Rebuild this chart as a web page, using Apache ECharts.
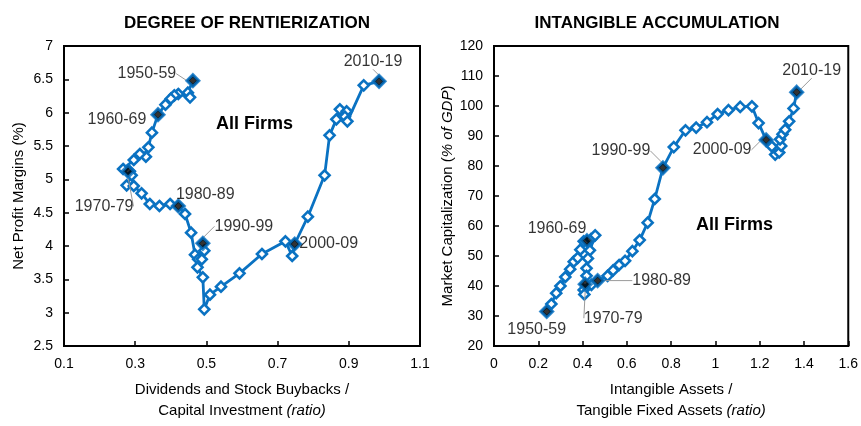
<!DOCTYPE html>
<html>
<head>
<meta charset="utf-8">
<script src="https://cdn.jsdelivr.net/npm/echarts/dist/echarts.min.js"></script>
<style>
  html, body { margin: 0; padding: 0; background: #fff; }
  #chart { width: 861px; height: 426px; }
</style>
</head>
<body>
<div id="chart"></div>
<script>
// left panel: payout ratio vs net profit margin, 1950 -> 2019
const rentX = [0.462, 0.448, 0.454, 0.421, 0.410, 0.400, 0.385, 0.364, 0.347, 0.337, 0.330, 0.313, 0.296, 0.266, 0.285, 0.290, 0.276, 0.296, 0.318, 0.341, 0.368, 0.398, 0.421, 0.440, 0.457, 0.468, 0.477, 0.490, 0.494, 0.487, 0.475, 0.490, 0.494, 0.510, 0.541, 0.593, 0.656, 0.722, 0.741, 0.748, 0.785, 0.832, 0.846, 0.865, 0.875, 0.894, 0.889, 0.896, 0.942, 0.985];
const rentY = [6.48, 6.30, 6.23, 6.28, 6.26, 6.21, 6.12, 5.97, 5.70, 5.48, 5.34, 5.38, 5.29, 5.155, 5.12, 5.06, 4.91, 4.90, 4.79, 4.63, 4.60, 4.63, 4.60, 4.48, 4.20, 3.87, 3.80, 4.04, 3.93, 3.80, 3.68, 3.53, 3.05, 3.27, 3.39, 3.59, 3.88, 4.07, 3.85, 4.03, 4.44, 5.06, 5.66, 5.90, 6.05, 6.02, 5.94, 5.87, 6.41, 6.47];

// right panel: intangible/tangible ratio vs market cap (% of GDP)
const intX = [0.238, 0.259, 0.281, 0.300, 0.322, 0.344, 0.360, 0.378, 0.390, 0.405, 0.420, 0.438, 0.457, 0.433, 0.424, 0.418, 0.418, 0.412, 0.405, 0.408, 0.440, 0.468, 0.513, 0.538, 0.565, 0.592, 0.625, 0.658, 0.694, 0.726, 0.763, 0.812, 0.865, 0.913, 0.962, 1.010, 1.059, 1.112, 1.165, 1.195, 1.229, 1.255, 1.270, 1.288, 1.297, 1.292, 1.303, 1.315, 1.333, 1.353, 1.367];
const intY = [31.5, 34.0, 37.6, 40.0, 43.0, 45.6, 48.1, 49.4, 52.1, 54.9, 55.1, 55.6, 56.9, 51.9, 49.2, 45.9, 43.4, 40.6, 38.7, 37.2, 40.4, 41.8, 43.4, 45.2, 47.0, 48.4, 51.6, 55.3, 61.1, 69.0, 79.4, 86.3, 91.9, 92.8, 94.6, 97.3, 98.6, 99.7, 99.9, 94.3, 88.7, 86.5, 83.8, 84.5, 86.7, 88.9, 90.6, 92.1, 94.9, 99.2, 104.6];

// decade markers
const decades = ['1950-59', '1960-69', '1970-79', '1980-89', '1990-99', '2000-09', '2010-19'];
const rentDecX = [0.462, 0.364, 0.280, 0.421, 0.490, 0.748, 0.985];
const rentDecY = [6.48, 5.97, 5.12, 4.60, 4.04, 4.03, 6.47];
const intDecX = [0.238, 0.420, 0.412, 0.468, 0.763, 1.229, 1.367];
const intDecY = [31.5, 55.1, 40.6, 41.8, 79.4, 88.7, 104.6];

const BLUE = '#0a72c2';
const FONT = 'Liberation Sans, Arial, sans-serif';

// label offsets [dx, dy, leader line]
const rentLbl = [[-46, -7, true], [-41, 5, false], [-24, 35, true], [27, -11, false], [41, -17, true], [34, 0, false], [-6, -20, true]];
const intLbl = [[-10, 18, false], [-30, -12, false], [28, 34, true], [64, 0, true], [-42, -17, true], [-44, 10, true], [15, -22, true]];

const zip = (xs, ys) => xs.map((x, i) => [x, ys[i]]);

const chart = echarts.init(document.getElementById('chart'), null, { renderer: 'canvas' });

const axisCommon = {
  type: 'value',
  axisLine: { show: true, lineStyle: { color: '#000', width: 2 } },
  axisTick: { show: true, inside: true, length: 5, lineStyle: { color: '#000', width: 1.5 } },
  splitLine: { show: false },
  axisLabel: { color: '#000', fontSize: 14, fontFamily: FONT, margin: 11 }
};

const lineSeries = (xi, data) => ({
  type: 'line',
  xAxisIndex: xi, yAxisIndex: xi,
  data: data,
  symbol: 'diamond',
  symbolSize: 10,
  showSymbol: true,
  lineStyle: { color: BLUE, width: 2.8 },
  itemStyle: { color: '#fff', borderColor: BLUE, borderWidth: 2.6 },
  z: 3
});

const decadeSeries = (xi, xs, ys, offs) => ({
  type: 'scatter',
  xAxisIndex: xi, yAxisIndex: xi,
  symbol: 'diamond',
  symbolSize: 12,
  itemStyle: { color: '#000', borderColor: BLUE, borderWidth: 3 },
  z: 5,
  data: decades.map((d, i) => ({
    name: d,
    value: [xs[i], ys[i]],
    labelLine: { show: offs[i][2] }
  })),
  label: {
    show: true,
    position: 'inside',
    formatter: '{t|{b}}',
    rich: { t: { color: '#000', fontSize: 16, fontFamily: FONT } },
    textBorderWidth: 0
  },
  labelLine: { show: true, lineStyle: { color: '#9a9a9a', width: 1 } },
  labelLayout: p => ({ dx: offs[p.dataIndex][0], dy: offs[p.dataIndex][1] })
});

const option = {
  animation: false,
  backgroundColor: '#fff',
  title: [
    { text: 'DEGREE OF RENTIERIZATION', left: 242, top: 10, textAlign: 'center',
      textStyle: { fontSize: 17, fontWeight: 'bold', color: '#000', fontFamily: FONT } },
    { text: 'INTANGIBLE ACCUMULATION', left: 652, top: 10, textAlign: 'center',
      textStyle: { fontSize: 17, fontWeight: 'bold', color: '#000', fontFamily: FONT } }
  ],
  grid: [
    { left: 64, top: 46, width: 356, height: 308, show: true, borderColor: '#000', borderWidth: 2 },
    { left: 494, top: 46, width: 356, height: 308, show: true, borderColor: '#000', borderWidth: 2 }
  ],
  xAxis: [
    Object.assign({}, axisCommon, {
      gridIndex: 0, min: 0.1, max: 1.1, interval: 0.2,
      name: 'Dividends and Stock Buybacks /\nCapital Investment {i|(ratio)}',
      nameLocation: 'middle', nameGap: 33,
      nameTextStyle: { color: '#000', fontSize: 15, fontFamily: FONT, lineHeight: 21,
        rich: { i: { fontStyle: 'italic', fontSize: 15, fontFamily: FONT, color: '#000' } } }
    }),
    Object.assign({}, axisCommon, {
      gridIndex: 1, min: 0, max: 1.6, interval: 0.2,
      name: 'Intangible Assets /\nTangible Fixed Assets {i|(ratio)}',
      nameLocation: 'middle', nameGap: 33,
      nameTextStyle: { color: '#000', fontSize: 15, fontFamily: FONT, lineHeight: 21,
        rich: { i: { fontStyle: 'italic', fontSize: 15, fontFamily: FONT, color: '#000' } } }
    })
  ],
  yAxis: [
    Object.assign({}, axisCommon, {
      gridIndex: 0, min: 2.5, max: 7, interval: 0.5,
      name: 'Net Profit Margins (%)',
      nameLocation: 'middle', nameGap: 38,
      nameTextStyle: { color: '#000', fontSize: 15, fontFamily: FONT }
    }),
    Object.assign({}, axisCommon, {
      gridIndex: 1, min: 20, max: 120, interval: 10,
      name: 'Market Capitalization ({i|% of GDP})',
      nameLocation: 'middle', nameGap: 34,
      nameTextStyle: { color: '#000', fontSize: 15, fontFamily: FONT,
        rich: { i: { fontStyle: 'italic', fontSize: 15, fontFamily: FONT, color: '#000' } } }
    })
  ],
  graphic: [
    { type: 'text', left: 216, top: 115, style: { text: 'All Firms', font: 'bold 18px ' + FONT, fill: '#000' } },
    { type: 'text', left: 696, top: 216, style: { text: 'All Firms', font: 'bold 18px ' + FONT, fill: '#000' } }
  ],
  series: [
    lineSeries(0, zip(rentX, rentY)),
    lineSeries(1, zip(intX, intY)),
    decadeSeries(0, rentDecX, rentDecY, rentLbl),
    decadeSeries(1, intDecX, intDecY, intLbl)
  ]
};

chart.setOption(option);
</script>
</body>
</html>
